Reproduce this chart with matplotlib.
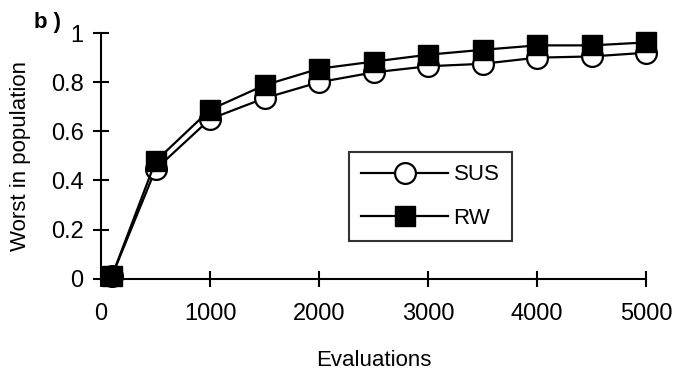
import matplotlib
matplotlib.use("Agg")
import matplotlib.pyplot as plt

evals = [100, 500, 1000, 1500, 2000, 2500, 3000, 3500, 4000, 4500, 5000]
sus = [0.01, 0.445, 0.65, 0.735, 0.80, 0.84, 0.865, 0.875, 0.90, 0.905, 0.92]
rw = [0.01, 0.478, 0.688, 0.788, 0.855, 0.884, 0.912, 0.932, 0.95, 0.95, 0.962]
xticks = [0, 1000, 2000, 3000, 4000, 5000]
yticks = [0, 0.2, 0.4, 0.6, 0.8, 1]
ytick_labels = ["0", "0.2", "0.4", "0.6", "0.8", "1"]

plt.rcParams['font.family'] = ['Liberation Sans', 'DejaVu Sans']

fig = plt.figure(figsize=(6.78, 3.72), dpi=100)
ax = fig.add_axes([0.149, 0.251, 0.804, 0.660])

ax.plot(evals, sus, color="black", lw=1.6, marker="o", ms=15,
        mfc="white", mec="black", mew=1.6, label="SUS", zorder=3,
        clip_on=False)
ax.plot(evals, rw, color="black", lw=1.6, marker="s", ms=15,
        mfc="black", mec="black", label="RW", zorder=4, clip_on=False)

ax.set_xlim(0, 5000)
ax.set_ylim(0, 1)
ax.set_xticks(xticks)
ax.set_xticklabels([str(t) for t in xticks])
ax.set_yticks(yticks)
ax.set_yticklabels(ytick_labels)

for s in ["top", "right"]:
    ax.spines[s].set_visible(False)
for s in ["left", "bottom"]:
    ax.spines[s].set_linewidth(1.5)

ax.tick_params(axis="both", direction="inout", length=11, width=1.5,
               labelsize=17)
ax.tick_params(axis="x", pad=12)
ax.tick_params(axis="y", pad=7)

ax.set_xlabel("Evaluations", fontsize=16, labelpad=18)
ax.set_ylabel("Worst in population", fontsize=16, labelpad=14)

fig.text(0.05, 0.925, "b )", fontsize=16, fontweight="bold")

leg = ax.legend(loc="upper left", bbox_to_anchor=(0.455, 0.515),
                frameon=True, fancybox=False,
                prop={"size": 16},
                handlelength=3.9, borderpad=0.55, labelspacing=1.0,
                handletextpad=0.25, borderaxespad=0, markerscale=1.0)
leg.get_frame().set_edgecolor("black")
leg.get_frame().set_linewidth(1.5)

fig.savefig("out.png", dpi=100)
